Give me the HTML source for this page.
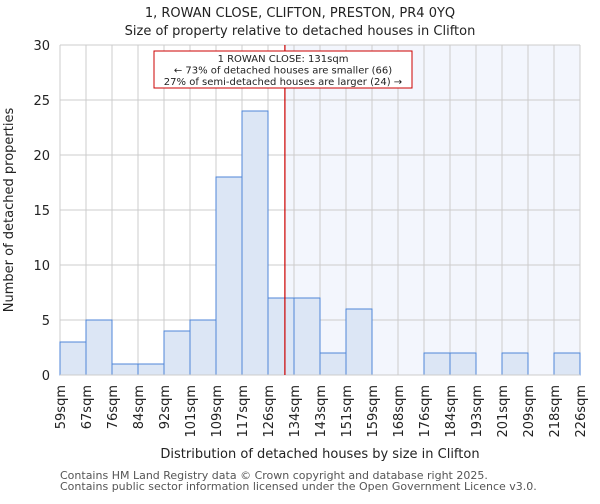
<!DOCTYPE html>
<html><head><meta charset="utf-8"><style>
body{margin:0;background:#fff;font-family:"DejaVu Sans","Liberation Sans",sans-serif}
</style></head><body>
<svg width="600" height="500" xmlns="http://www.w3.org/2000/svg" font-family="DejaVu Sans, Liberation Sans, sans-serif">
<g id="g"></g>
</svg>
<script>
const categories=["59sqm","67sqm","76sqm","84sqm","92sqm","101sqm","109sqm","117sqm","126sqm","134sqm","143sqm","151sqm","159sqm","168sqm","176sqm","184sqm","193sqm","201sqm","209sqm","218sqm","226sqm"];
const counts=[3,5,1,1,4,5,18,24,7,7,2,6,0,0,2,2,0,2,0,2];
const yTicks=[0,5,10,15,20,25,30];
const markerBin=8.65;
const L=60,R=580,T=45,B=375,yMax=30;
const n=counts.length,bw=(R-L)/n;
const xs=i=>L+i*bw, ys=v=>B-(v/yMax)*(B-T);
const g=document.getElementById('g');const NS="http://www.w3.org/2000/svg";
function el(t,a,txt){const e=document.createElementNS(NS,t);for(const k in a)e.setAttribute(k,a[k]);if(txt!=null)e.textContent=txt;g.appendChild(e);return e;}
const mx=xs(markerBin);
let e=el('rect',{x:mx,y:T,width:R-mx,height:B-T,fill:'#f3f6fd'});


for(const t of yTicks){e=el('line',{x1:L,x2:R,y1:ys(t),y2:ys(t),stroke:'#ccc','stroke-width':1});


e=el('text',{x:L-10,y:ys(t)+5,'text-anchor':'end','font-size':13,fill:'#222'},t);

}
for(let i=0;i<=n;i++){e=el('line',{x1:xs(i),x2:xs(i),y1:T,y2:B,stroke:'#ccc','stroke-width':1});

}
counts.forEach((v,i)=>{if(v<=0)return;e=el('rect',{x:xs(i),y:ys(v),width:bw,height:B-ys(v),fill:'#dce6f5',stroke:'#4f86d8','stroke-width':1});

});
e=el('line',{x1:L,x2:R,y1:B,y2:B,stroke:'#ccc'});


e=el('line',{x1:mx,x2:mx,y1:T,y2:B,stroke:'#cc0000','stroke-width':1.2});


categories.forEach((c,i)=>{const x=xs(i)+5;e=el('text',{x:x,y:385,transform:`rotate(-90 ${x} 385)`,'text-anchor':'end','font-size':13,fill:'#222'},c);

});
e=el('rect',{x:154,y:51,width:258,height:37,fill:'#fff',stroke:'#c00','stroke-width':1});


const ann=["1 ROWAN CLOSE: 131sqm","← 73% of detached houses are smaller (66)","27% of semi-detached houses are larger (24) →"];
ann.forEach((t,i)=>{e=el('text',{x:283,y:62+i*11.5,'text-anchor':'middle','font-size':10,fill:'#222'},t);

});
e=el('text',{x:300,y:17,'text-anchor':'middle','font-size':13,fill:'#222'},"1, ROWAN CLOSE, CLIFTON, PRESTON, PR4 0YQ");


e=el('text',{x:300,y:35,'text-anchor':'middle','font-size':13,fill:'#222'},"Size of property relative to detached houses in Clifton");


e=el('text',{x:13,y:210,transform:'rotate(-90 13 210)','text-anchor':'middle','font-size':13,fill:'#222'},"Number of detached properties");


e=el('text',{x:320,y:458,'text-anchor':'middle','font-size':13,fill:'#222'},"Distribution of detached houses by size in Clifton");


e=el('text',{x:60,y:479,'font-size':11,fill:'#555'},"Contains HM Land Registry data © Crown copyright and database right 2025.");


e=el('text',{x:60,y:490,'font-size':11,fill:'#555'},"Contains public sector information licensed under the Open Government Licence v3.0.");


</script>
</body></html>
